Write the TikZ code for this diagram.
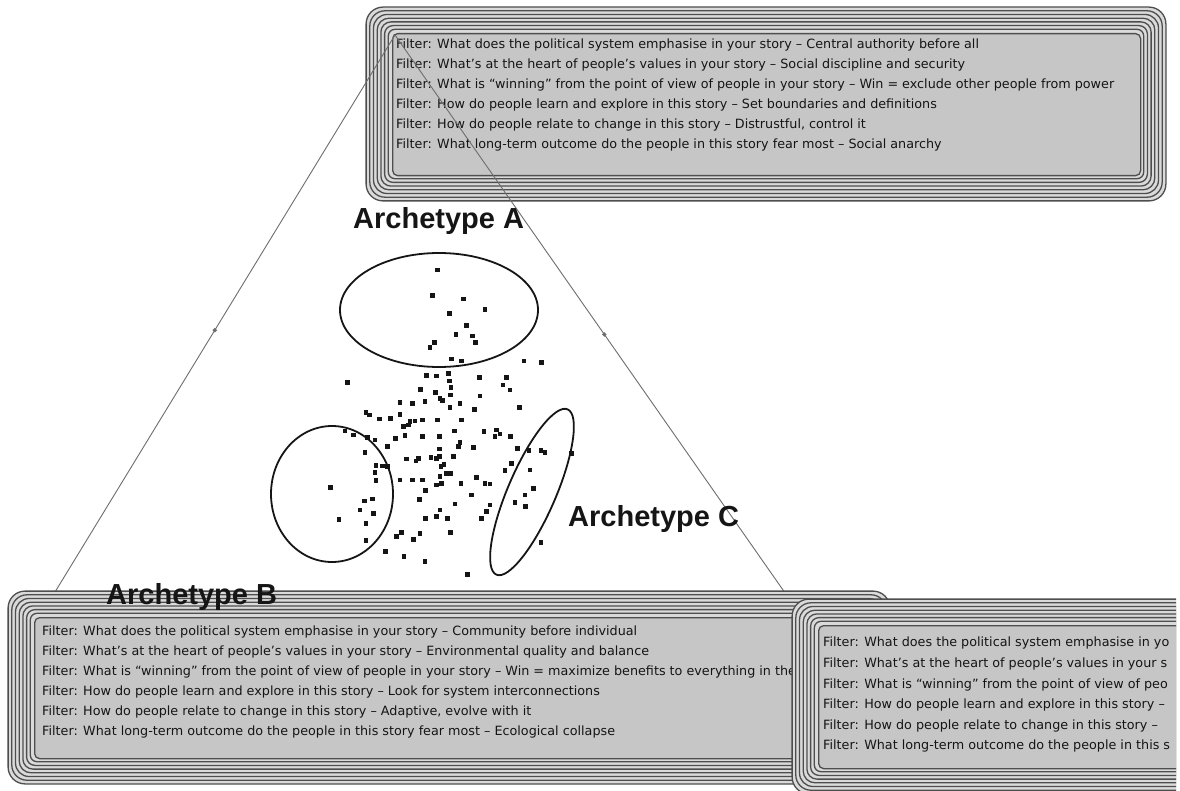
\documentclass[tikz,border=0pt]{standalone}
\usepackage{fontspec}
\setmainfont{DejaVu Sans}
\newfontfamily\labelfont{Liberation Sans}
\usetikzlibrary{shapes.geometric}

\definecolor{ink}{HTML}{151515}
\definecolor{ringdark}{HTML}{4E4E4E}
\definecolor{ringlight}{HTML}{DADADA}
\definecolor{panelfill}{HTML}{C6C6C6}
\definecolor{wire}{HTML}{6E6E6E}

\tikzset{
  panel/.style={draw=ringdark, line width=1.3pt, fill=panelfill, rounded corners=5pt,
    inner sep=0pt, anchor=north west},
  filtertext/.style={anchor=north west, inner sep=0pt, align=left, text=ink,
    font=\fontsize{12.75}{20}\selectfont},
  archlabel/.style={anchor=base west, inner sep=0pt, text=ink,
    font=\labelfont\bfseries\fontsize{29}{32}\selectfont},
  ring/.style={draw=ringdark, line width=1.3pt, fill=ringlight},
  cluster/.style={draw=ink, line width=1.8pt},
  wirestyle/.style={draw=wire, line width=0.9pt},
  tick/.style={diamond, fill=wire, inner sep=0pt, minimum size=5pt},
  dot/.style={fill=ink}
}

% A grey panel framed by a stack of rounded outlines.
% #1 name, (#2,#3) top left corner, (#4,#5) bottom right corner of the panel
\newcommand\filterpanel[5]{%
  \coordinate (#1-nw) at (#2,#3);
  \coordinate (#1-se) at (#4,#5);
  \foreach \k in {7,6,...,1} {
    \pgfmathsetmacro\ringgap{\k*3.7}
    \pgfmathsetmacro\ringrad{5+\k*1.7}
    \draw[ring, rounded corners=\ringrad pt]
      ([shift={(-\ringgap pt,\ringgap pt)}]#1-nw) rectangle
      ([shift={(\ringgap pt,-\ringgap pt)}]#1-se);
  }
  \node[panel, minimum width={(#4-#2)*1pt}, minimum height={(#5-#3)*1pt}] (#1) at (#1-nw) {};
}

\begin{document}
\begin{tikzpicture}[x=1pt, y=-1pt]
  \useasboundingbox (0,0) rectangle (1180,791);
  \fill[white] (0,0) rectangle (1180,791);
  \clip (0,0) rectangle (1176,791);

  % upper panel: Archetype A
  \filterpanel{panelA}{392}{33}{1140}{175}
  \node[filtertext] (textA) at (396,39) {%
    Filter: What does the political system emphasise in your story – Central authority before all\\
    Filter: What’s at the heart of people’s values in your story – Social discipline and security\\
    Filter: What is “winning” from the point of view of people in your story – Win = exclude other people from power\\
    Filter: How do people learn and explore in this story – Set boundaries and definitions\\
    Filter: How do people relate to change in this story – Distrustful, control it\\
    Filter: What long-term outcome do the people in this story fear most – Social anarchy};

  % triangle joining the three panels
  \coordinate (apex) at (395,35);
  \coordinate (footB) at (55,592);
  \coordinate (footC) at (790,600);
  \draw[wirestyle] (apex) -- node[tick, pos=0.53] (tickB) {} (footB);
  \draw[wirestyle] (apex) -- node[tick, pos=0.53] (tickC) {} (footC);

  % archetype labels
  \node[archlabel] (labA) at (353,229) {Archetype A};
  \node[archlabel] (labC) at (568,526) {Archetype C};

  % clusters
  \draw[cluster] (439,310) ellipse [x radius=99, y radius=57];
  \draw[cluster] (332,494) ellipse [x radius=61, y radius=68];
  \draw[cluster, rotate around={66.7:(532,492)}] (532,492) ellipse [x radius=90, y radius=24];

  % scattered stories
  \begin{scope}[shift={(240,200)}, x=0.3333pt, y=-0.3333pt]
    \foreach \px/\py in {592/210, 577/287, 670/297, 735/328, 628/340, 680/376, 648/403,
      697/408, 706/428, 583/427, 570/442, 634/477, 665/483,
      852/483, 905/487, 322/548, 590/528, 560/527, 625/520, 628/543, 718/533, 800/532,
      789/555, 810/570, 542/568, 633/563, 587/578, 600/595, 720/588, 555/605, 632/585,
      607/602, 660/610, 630/623, 480/608, 517/610, 838/623, 703/628, 378/637, 388/645,
      418/657, 452/656, 480/643, 510/665, 525/663, 548/660, 593/660, 665/660, 490/680,
      505/675, 315/693, 340/705, 382/712, 405/720, 467/715, 495/707, 548/710, 598/710,
      643/693, 732/695, 770/690, 780/702, 765/710, 812/710, 660/727, 655/740, 700/742,
      598/747, 443/740, 375/757, 500/777, 528/783, 535/775, 573/773, 590/775, 598/770,
      640/770, 603/800, 612/793, 832/745, 867/752, 903/752, 915/757, 995/760, 408/797,
      428/798, 443/800, 405/818, 408/842, 480/840, 518/840, 548/840, 600/830, 620/820,
      632/820, 605/850, 590/855, 663/850, 710/832, 735/850, 750/852, 795/812, 815/790,
      870/810, 556/872, 694/885, 538/898, 880/866, 855/885, 373/903, 398/897, 360/930,
      400/940, 272/862, 297/958, 645/912, 600/930, 590/950, 557/955, 622/955, 750/915,
      740/935, 725/955, 825/908, 857/920, 378/970, 632/998, 470/1010, 485/997, 540/1000,
      520/1018, 378/1022, 903/1028, 437/1055, 492/1070, 555/1085, 682/1123}
      \fill[dot] (\px-7,\py-7) rectangle ++(14,14);
  \end{scope}

  % lower left panel: Archetype B
  \filterpanel{panelB}{34}{617}{864}{758}
  \node[archlabel] (labB) at (106,604) {Archetype B};
  \node[filtertext] (textB) at (42,626) {%
    Filter: What does the political system emphasise in your story – Community before individual\\
    Filter: What’s at the heart of people’s values in your story – Environmental quality and balance\\
    Filter: What is “winning” from the point of view of people in your story – Win = maximize benefits to everything in the\\
    Filter: How do people learn and explore in this story – Look for system interconnections\\
    Filter: How do people relate to change in this story – Adaptive, evolve with it\\
    Filter: What long-term outcome do the people in this story fear most – Ecological collapse};

  % lower right panel: Archetype C, running past the right edge
  \filterpanel{panelC}{818}{625}{1215}{768}
  \node[filtertext, font=\fontsize{12.75}{20.6}\selectfont] (textC) at (823,637) {%
    Filter: What does the political system emphasise in yo\\
    Filter: What’s at the heart of people’s values in your s\\
    Filter: What is “winning” from the point of view of peo\\
    Filter: How do people learn and explore in this story –\\
    Filter: How do people relate to change in this story –\\
    Filter: What long-term outcome do the people in this s};
\end{tikzpicture}
\end{document}
